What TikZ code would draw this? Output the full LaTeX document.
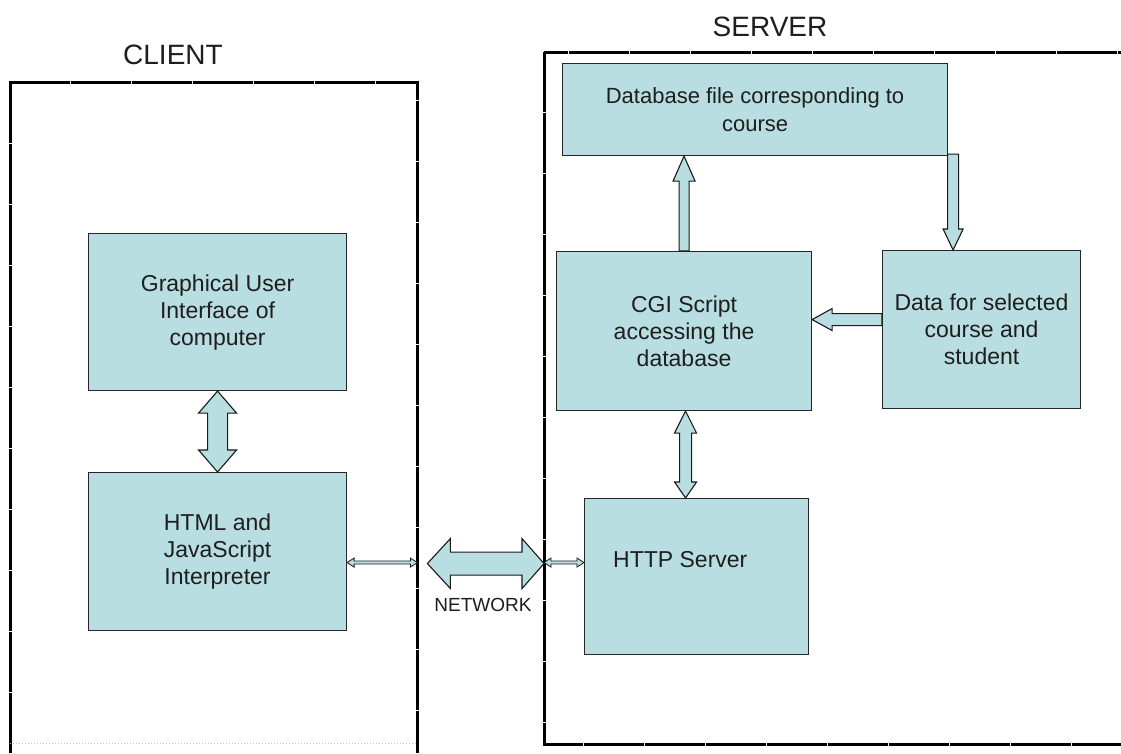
\documentclass[tikz,border=0pt]{standalone}
\usepackage{fontspec}
\setmainfont{Liberation Sans}
\usetikzlibrary{calc}
\definecolor{boxfill}{RGB}{185,222,225}
\definecolor{txt}{RGB}{30,30,30}
\begin{document}
\begin{tikzpicture}[x=1pt,y=-1pt,
  box/.style={draw=black!85, line width=1.1pt, fill=boxfill, anchor=north west,
    inner sep=0pt, align=center, font=\fontsize{23}{27}\selectfont, text=txt},
  blk/.style={draw=black!90, line width=1.1pt, fill=boxfill, line join=miter},
  thinblk/.style={draw=black!90, line width=0.8pt, fill=boxfill, line join=miter},
  border/.style={line width=3pt, dash pattern=on 60pt off 1pt},
  title/.style={font=\fontsize{28}{32}\selectfont, text=txt, inner sep=0pt},
  lbl/.style={font=\fontsize{23}{27}\selectfont, text=txt, inner sep=0pt},
  area/.style={anchor=north west, inner sep=0pt}]
\useasboundingbox (0,0) rectangle (1121,753);
\fill[white] (0,0) rectangle (1121,753);

% containers
\node[area, minimum width=407pt, minimum height=671pt] (client) at (10,82) {};
\node[area, minimum width=600pt, minimum height=692pt] (server) at (544,52) {};
\draw[border] (client.south west) -- (client.north west) -- (client.north east) -- (client.south east);
\draw[black!25, line width=1pt, dotted] ($(client.south west)+(0,-10)$) -- ($(client.south east)+(0,-10)$);
\draw[border] (server.north west) rectangle (server.south east);

\node[title] (tclient) at (173,55) {CLIENT};
\node[title] (tserver) at (770,27) {SERVER};

% boxes
\node[box, minimum width=258pt, minimum height=157pt] (gui) at (88,233) {Graphical User\\Interface of\\computer};
\node[box, minimum width=258pt, minimum height=158pt] (html) at (88,472) {HTML and\\JavaScript\\Interpreter};
\node[box, minimum width=385pt, minimum height=92pt, font=\fontsize{22}{28}\selectfont] (db) at (562,63) {Database file corresponding to\\course};
\node[box, minimum width=255pt, minimum height=159pt] (cgi) at (556,251) {CGI Script\\accessing the\\database};
\node[box, minimum width=198pt, minimum height=158pt] (data) at (882,250) {Data for selected\\course and\\student};
\node[box, minimum width=224pt, minimum height=156pt] (http) at (584,498) {};
\node[lbl, anchor=base west] (thttp) at ($(http.north west)+(29,69)$) {HTTP Server};

% GUI <-> HTML
\draw[blk] let \p1=(gui.south), \p2=(html.north) in
  (\x1,\y1) -- (\x1+19pt,\y1-22pt) -- (\x1+10pt,\y1-22pt) -- (\x1+10pt,\y2+22pt)
  -- (\x1+19pt,\y2+22pt) -- (\x1,\y2) -- (\x1-19pt,\y2+22pt) -- (\x1-10pt,\y2+22pt)
  -- (\x1-10pt,\y1-22pt) -- (\x1-19pt,\y1-22pt) -- cycle;

% CGI -> DB
\draw[blk] let \p1=(cgi.north), \p2=(db.south) in
  (\x1-5pt,\y1) -- (\x1-5pt,\y2-25pt) -- (\x1-11pt,\y2-25pt) -- (\x1,\y2)
  -- (\x1+11pt,\y2-25pt) -- (\x1+5pt,\y2-25pt) -- (\x1+5pt,\y1) -- cycle;

% DB -> Data
\draw[blk] let \p1=(db.south east), \p2=(data.north), \p3=($(db.south east)+(5,0)$) in
  (\x3-5.5pt,\y1+2pt) -- (\x3-5.5pt,\y2+21pt) -- (\x3-10pt,\y2+21pt) -- (\x3,\y2)
  -- (\x3+10pt,\y2+21pt) -- (\x3+5.5pt,\y2+21pt) -- (\x3+5.5pt,\y1+2pt) -- cycle;

% Data -> CGI
\draw[blk] let \p1=($(data.west)+(0,-10)$), \p2=(cgi.east) in
  (\x1,\y1+6pt) -- (\x2+20pt,\y1+6pt) -- (\x2+20pt,\y1+11pt) -- (\x2,\y1)
  -- (\x2+20pt,\y1-11pt) -- (\x2+20pt,\y1-6pt) -- (\x1,\y1-6pt) -- cycle;

% CGI <-> HTTP
\draw[blk] let \p1=($(cgi.south)+(1.5,0)$), \p2=(http.north) in
  (\x1,\y1) -- (\x1+11pt,\y1-22pt) -- (\x1+6pt,\y1-22pt) -- (\x1+6pt,\y2+16pt)
  -- (\x1+11pt,\y2+16pt) -- (\x1,\y2) -- (\x1-11pt,\y2+16pt) -- (\x1-6pt,\y2+16pt)
  -- (\x1-6pt,\y1-22pt) -- (\x1-11pt,\y1-22pt) -- cycle;

% NETWORK
\draw[blk] let \p1=($(client.east)+(10,0)$), \p2=(server.west), \p3=($(html.east)+(0,12)$) in
  (\x1,\y3) -- (\x1+23pt,\y3+25pt) -- (\x1+23pt,\y3+11.5pt) -- (\x2-22pt,\y3+11.5pt)
  -- (\x2-22pt,\y3+25pt) -- (\x2,\y3) -- (\x2-22pt,\y3-25pt) -- (\x2-22pt,\y3-11.5pt)
  -- (\x1+23pt,\y3-11.5pt) -- (\x1+23pt,\y3-25pt) -- cycle;
\node[font=\fontsize{19}{22}\selectfont, text=txt, inner sep=0pt] (tnet) at (483,605) {NETWORK};

% thin connectors
\draw[thinblk] let \p1=($(html.east)+(0,11)$), \p2=(client.east) in
  (\x1,\y1) -- (\x1+7pt,\y1+4.5pt) -- (\x1+7pt,\y1+1.5pt) -- (\x2-7pt,\y1+1.5pt)
  -- (\x2-7pt,\y1+4.5pt) -- (\x2,\y1) -- (\x2-7pt,\y1-4.5pt) -- (\x2-7pt,\y1-1.5pt)
  -- (\x1+7pt,\y1-1.5pt) -- (\x1+7pt,\y1-4.5pt) -- cycle;
\draw[thinblk] let \p1=(server.west), \p2=(http.west), \p3=($(html.east)+(0,11)$) in
  (\x1,\y3) -- (\x1+7pt,\y3+4.5pt) -- (\x1+7pt,\y3+1.5pt) -- (\x2-7pt,\y3+1.5pt)
  -- (\x2-7pt,\y3+4.5pt) -- (\x2,\y3) -- (\x2-7pt,\y3-4.5pt) -- (\x2-7pt,\y3-1.5pt)
  -- (\x1+7pt,\y3-1.5pt) -- (\x1+7pt,\y3-4.5pt) -- cycle;
\end{tikzpicture}
\end{document}
